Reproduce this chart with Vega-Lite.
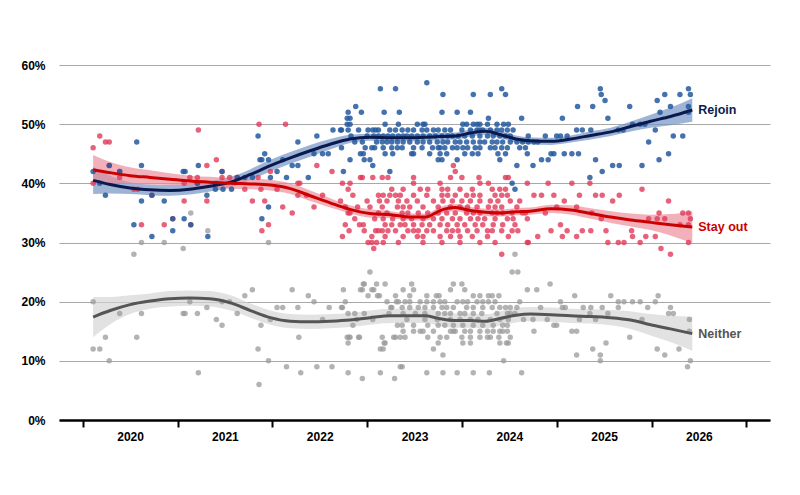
{
  "$schema": "https://vega.github.io/schema/vega-lite/v6.json",
  "width": 711,
  "height": 355,
  "autosize": "none",
  "padding": {"left": 59, "top": 65, "right": 30, "bottom": 75},
  "background": "white",
  "config": {"view": {"stroke": null}, "font": "Liberation Sans"},
  "datasets": {
    "trend": [
      {"s":"R","d":2019.61,"est":40.5,"lo":38.2,"hi":42.8},
      {"s":"R","d":2019.79,"est":39.8,"lo":38.3,"hi":41.3},
      {"s":"R","d":2020.00,"est":39.2,"lo":38.2,"hi":40.2},
      {"s":"R","d":2020.21,"est":38.9,"lo":38.0,"hi":39.8},
      {"s":"R","d":2020.42,"est":38.8,"lo":37.9,"hi":39.7},
      {"s":"R","d":2020.63,"est":39.0,"lo":38.1,"hi":39.9},
      {"s":"R","d":2020.84,"est":39.5,"lo":38.6,"hi":40.4},
      {"s":"R","d":2021.06,"est":40.2,"lo":39.3,"hi":41.1},
      {"s":"R","d":2021.27,"est":41.5,"lo":40.6,"hi":42.4},
      {"s":"R","d":2021.48,"est":43.0,"lo":42.0,"hi":44.0},
      {"s":"R","d":2021.69,"est":44.3,"lo":43.3,"hi":45.3},
      {"s":"R","d":2021.90,"est":45.5,"lo":44.5,"hi":46.5},
      {"s":"R","d":2022.11,"est":46.6,"lo":45.7,"hi":47.5},
      {"s":"R","d":2022.32,"est":47.5,"lo":46.8,"hi":48.2},
      {"s":"R","d":2022.53,"est":47.8,"lo":47.2,"hi":48.4},
      {"s":"R","d":2022.75,"est":47.7,"lo":47.1,"hi":48.3},
      {"s":"R","d":2022.96,"est":47.7,"lo":47.1,"hi":48.3},
      {"s":"R","d":2023.12,"est":47.8,"lo":47.2,"hi":48.4},
      {"s":"R","d":2023.27,"est":47.9,"lo":47.3,"hi":48.5},
      {"s":"R","d":2023.43,"est":48.0,"lo":47.4,"hi":48.6},
      {"s":"R","d":2023.59,"est":48.5,"lo":47.9,"hi":49.1},
      {"s":"R","d":2023.75,"est":48.8,"lo":48.2,"hi":49.4},
      {"s":"R","d":2023.91,"est":48.2,"lo":47.6,"hi":48.8},
      {"s":"R","d":2024.07,"est":47.5,"lo":46.9,"hi":48.1},
      {"s":"R","d":2024.22,"est":47.2,"lo":46.6,"hi":47.8},
      {"s":"R","d":2024.44,"est":47.1,"lo":46.5,"hi":47.7},
      {"s":"R","d":2024.65,"est":47.5,"lo":46.9,"hi":48.1},
      {"s":"R","d":2024.86,"est":48.1,"lo":47.4,"hi":48.8},
      {"s":"R","d":2025.07,"est":48.7,"lo":48.0,"hi":49.4},
      {"s":"R","d":2025.28,"est":49.6,"lo":48.75,"hi":50.45},
      {"s":"R","d":2025.49,"est":50.5,"lo":49.4,"hi":51.6},
      {"s":"R","d":2025.70,"est":51.3,"lo":49.8,"hi":52.8},
      {"s":"R","d":2025.93,"est":52.4,"lo":50.4,"hi":54.4},
      {"s":"S","d":2019.61,"est":42.3,"lo":39.8,"hi":44.8},
      {"s":"S","d":2019.79,"est":41.8,"lo":40.0,"hi":43.6},
      {"s":"S","d":2020.00,"est":41.3,"lo":39.9,"hi":42.7},
      {"s":"S","d":2020.21,"est":41.0,"lo":39.8,"hi":42.2},
      {"s":"S","d":2020.42,"est":40.7,"lo":39.7,"hi":41.7},
      {"s":"S","d":2020.63,"est":40.4,"lo":39.5,"hi":41.3},
      {"s":"S","d":2020.84,"est":40.2,"lo":39.3,"hi":41.1},
      {"s":"S","d":2021.06,"est":40.0,"lo":39.1,"hi":40.9},
      {"s":"S","d":2021.27,"est":39.9,"lo":39.0,"hi":40.8},
      {"s":"S","d":2021.48,"est":39.7,"lo":38.8,"hi":40.6},
      {"s":"S","d":2021.69,"est":39.1,"lo":38.2,"hi":40.0},
      {"s":"S","d":2021.90,"est":37.9,"lo":37.0,"hi":38.8},
      {"s":"S","d":2022.11,"est":36.7,"lo":35.9,"hi":37.5},
      {"s":"S","d":2022.32,"est":35.6,"lo":34.9,"hi":36.3},
      {"s":"S","d":2022.53,"est":34.9,"lo":34.2,"hi":35.6},
      {"s":"S","d":2022.75,"est":34.7,"lo":34.1,"hi":35.3},
      {"s":"S","d":2022.96,"est":34.3,"lo":33.7,"hi":34.9},
      {"s":"S","d":2023.12,"est":34.3,"lo":33.7,"hi":34.9},
      {"s":"S","d":2023.27,"est":35.4,"lo":34.8,"hi":36.0},
      {"s":"S","d":2023.43,"est":35.9,"lo":35.3,"hi":36.5},
      {"s":"S","d":2023.59,"est":35.4,"lo":34.8,"hi":36.0},
      {"s":"S","d":2023.75,"est":35.1,"lo":34.5,"hi":35.7},
      {"s":"S","d":2023.91,"est":35.0,"lo":34.4,"hi":35.6},
      {"s":"S","d":2024.07,"est":35.2,"lo":34.6,"hi":35.8},
      {"s":"S","d":2024.22,"est":35.3,"lo":34.7,"hi":35.9},
      {"s":"S","d":2024.44,"est":35.7,"lo":35.0,"hi":36.4},
      {"s":"S","d":2024.65,"est":35.5,"lo":34.7,"hi":36.3},
      {"s":"S","d":2024.86,"est":34.9,"lo":34.0,"hi":35.8},
      {"s":"S","d":2025.07,"est":34.3,"lo":33.3,"hi":35.3},
      {"s":"S","d":2025.28,"est":33.8,"lo":32.7,"hi":34.9},
      {"s":"S","d":2025.49,"est":33.4,"lo":32.1,"hi":34.7},
      {"s":"S","d":2025.70,"est":33.0,"lo":31.2,"hi":34.8},
      {"s":"S","d":2025.93,"est":32.6,"lo":29.9,"hi":35.3},
      {"s":"N","d":2019.61,"est":17.4,"lo":14.0,"hi":20.8},
      {"s":"N","d":2019.79,"est":18.5,"lo":16.2,"hi":20.8},
      {"s":"N","d":2020.00,"est":19.5,"lo":17.9,"hi":21.1},
      {"s":"N","d":2020.21,"est":20.1,"lo":18.8,"hi":21.4},
      {"s":"N","d":2020.42,"est":20.5,"lo":19.2,"hi":21.8},
      {"s":"N","d":2020.63,"est":20.6,"lo":19.3,"hi":21.9},
      {"s":"N","d":2020.84,"est":20.5,"lo":19.2,"hi":21.8},
      {"s":"N","d":2021.06,"est":19.8,"lo":18.5,"hi":21.1},
      {"s":"N","d":2021.27,"est":18.5,"lo":17.3,"hi":19.7},
      {"s":"N","d":2021.48,"est":17.3,"lo":16.1,"hi":18.5},
      {"s":"N","d":2021.69,"est":16.7,"lo":15.5,"hi":17.9},
      {"s":"N","d":2021.90,"est":16.6,"lo":15.4,"hi":17.8},
      {"s":"N","d":2022.11,"est":16.7,"lo":15.5,"hi":17.9},
      {"s":"N","d":2022.32,"est":16.9,"lo":15.7,"hi":18.1},
      {"s":"N","d":2022.53,"est":17.3,"lo":16.1,"hi":18.5},
      {"s":"N","d":2022.75,"est":17.6,"lo":16.4,"hi":18.8},
      {"s":"N","d":2022.96,"est":17.6,"lo":16.4,"hi":18.8},
      {"s":"N","d":2023.12,"est":17.6,"lo":16.4,"hi":18.8},
      {"s":"N","d":2023.27,"est":17.1,"lo":15.9,"hi":18.3},
      {"s":"N","d":2023.43,"est":16.8,"lo":15.6,"hi":18.0},
      {"s":"N","d":2023.59,"est":16.8,"lo":15.6,"hi":18.0},
      {"s":"N","d":2023.75,"est":16.7,"lo":15.5,"hi":17.9},
      {"s":"N","d":2023.91,"est":17.2,"lo":16.0,"hi":18.4},
      {"s":"N","d":2024.07,"est":17.7,"lo":16.5,"hi":18.9},
      {"s":"N","d":2024.22,"est":17.9,"lo":16.7,"hi":19.1},
      {"s":"N","d":2024.44,"est":17.8,"lo":16.6,"hi":19.0},
      {"s":"N","d":2024.65,"est":17.6,"lo":16.4,"hi":18.8},
      {"s":"N","d":2024.86,"est":17.5,"lo":16.3,"hi":18.7},
      {"s":"N","d":2025.07,"est":17.3,"lo":16.0,"hi":18.6},
      {"s":"N","d":2025.28,"est":16.9,"lo":15.4,"hi":18.4},
      {"s":"N","d":2025.49,"est":16.1,"lo":14.3,"hi":17.9},
      {"s":"N","d":2025.70,"est":15.4,"lo":13.2,"hi":17.6},
      {"s":"N","d":2025.93,"est":14.6,"lo":11.7,"hi":17.5}
    ]
  },
  "layer": [
    {
      "data": {"name": "trend"},
      "mark": {"type": "area", "interpolate": "monotone"},
      "encoding": {
        "x": {
          "field": "d", "type": "quantitative",
          "scale": {"domain": [2019.25, 2026.75], "nice": false, "zero": false},
          "axis": {
            "title": null, "grid": false,
            "values": [2019.5, 2020.5, 2021.5, 2022.5, 2023.5, 2024.5, 2025.5, 2026.5],
            "labelExpr": "datum.value < 2026 ? toString(datum.value + 0.5) : ''",
            "labelOffset": 47.4, "labelOverlap": false, "labelFlush": false, "labelBound": false,
            "domainColor": "black", "domainWidth": 2.5,
            "tickColor": "black", "tickWidth": 2, "tickSize": 7,
            "labelFontWeight": "bold", "labelFontSize": 12, "labelColor": "black", "labelPadding": 4
          }
        },
        "y": {
          "field": "lo", "type": "quantitative",
          "scale": {"domain": [0, 60], "nice": false},
          "axis": {
            "title": null, "values": [0, 10, 20, 30, 40, 50, 60],
            "labelExpr": "datum.value + '%'",
            "domain": false, "ticks": false, "labelPadding": 14,
            "labelFontWeight": "bold", "labelFontSize": 12, "labelColor": "black",
            "gridColor": "#a8a8a8", "gridWidth": 1
          }
        },
        "y2": {"field": "hi"},
        "color": {
          "field": "s", "type": "nominal", "legend": null,
          "scale": {"domain": ["R", "S", "N"], "range": ["#7394c6", "#ec8c98", "#d2d2d2"]}
        },
        "opacity": {
          "field": "s", "type": "nominal", "legend": null,
          "scale": {"domain": ["R", "S", "N"], "range": [0.7, 0.65, 0.75]}
        }
      }
    },
    {
      "data": {
        "values": "d,s,v\n2019.61,N,20\n2019.61,N,12\n2019.68,N,12\n2019.74,N,14\n2019.78,N,10\n2019.89,N,18\n2020.07,N,14\n2020.12,N,18\n2020.56,N,18\n2020.58,N,18\n2020.63,N,20\n2020.71,N,18\n2020.72,N,8\n2020.81,N,19\n2020.91,N,17\n2020.97,N,16\n2020.97,N,20\n2021.05,N,20\n2021.13,N,18\n2020.04,N,28\n2020.12,N,30\n2020.36,N,30\n2020.56,N,29\n2020.64,N,35\n2020.82,N,32\n2021.46,N,30\n2021.21,N,21\n2021.29,N,22\n2021.35,N,12\n2021.36,N,6\n2021.38,N,16\n2021.46,N,10\n2021.48,N,17\n2021.55,N,19\n2021.61,N,19\n2021.65,N,9\n2021.71,N,22\n2021.77,N,19\n2021.78,N,14\n2021.80,N,8\n2021.88,N,21\n2021.94,N,20\n2021.97,N,9\n2022.03,N,17\n2022.10,N,19\n2022.13,N,9\n2022.23,N,19\n2022.24,N,19\n2022.25,N,22\n2022.27,N,20\n2022.30,N,18\n2022.29,N,14\n2022.31,N,14\n2022.32,N,14\n2022.30,N,13\n2022.30,N,8\n2022.35,N,16\n2022.37,N,18\n2022.39,N,17\n2022.41,N,14\n2022.42,N,14\n2022.43,N,22\n2022.45,N,22\n2022.46,N,23\n2022.47,N,23\n2022.45,N,7\n2022.47,N,18\n2022.53,N,25\n2022.51,N,21\n2022.55,N,22\n2022.57,N,22\n2022.56,N,17\n2022.60,N,23\n2022.61,N,21\n2022.63,N,21\n2022.64,N,12\n2022.67,N,12\n2022.64,N,8\n2022.66,N,14\n2022.68,N,13\n2022.69,N,13\n2022.69,N,23\n2022.71,N,20\n2022.73,N,18\n2022.75,N,19\n2022.76,N,19\n2022.79,N,7\n2022.78,N,14\n2022.80,N,14\n2022.80,N,21\n2022.81,N,20\n2022.83,N,20\n2022.82,N,16\n2022.85,N,9\n2024.03,N,25\n2024.09,N,25\n2022.97,N,23\n2023.41,N,23\n2023.50,N,23\n2024.43,N,23\n2022.88,N,22\n2022.99,N,22\n2023.38,N,22\n2023.53,N,22\n2024.19,N,22\n2024.29,N,22\n2022.95,N,21\n2023.13,N,21\n2023.23,N,21\n2023.26,N,21\n2023.62,N,21\n2023.69,N,21\n2023.78,N,21\n2023.82,N,21\n2023.89,N,21\n2024.69,N,21\n2025.07,N,21\n2025.57,N,21\n2022.90,N,20\n2022.95,N,20\n2023.06,N,20\n2023.13,N,20\n2023.20,N,20\n2023.27,N,20\n2023.32,N,20\n2023.45,N,20\n2023.51,N,20\n2023.56,N,20\n2023.66,N,20\n2023.72,N,20\n2023.78,N,20\n2023.85,N,20\n2024.11,N,20\n2024.54,N,20\n2025.15,N,20\n2025.21,N,20\n2025.30,N,20\n2025.38,N,20\n2025.54,N,20\n2022.87,N,19\n2022.95,N,19\n2023.04,N,19\n2023.11,N,19\n2023.20,N,19\n2023.29,N,19\n2023.34,N,19\n2023.41,N,19\n2023.55,N,19\n2023.62,N,19\n2023.72,N,19\n2023.82,N,19\n2023.90,N,19\n2023.96,N,19\n2024.01,N,19\n2024.08,N,19\n2024.33,N,19\n2024.56,N,19\n2024.59,N,19\n2024.78,N,19\n2024.86,N,19\n2024.98,N,19\n2025.15,N,19\n2025.46,N,19\n2025.70,N,19\n2022.88,N,18\n2023.01,N,18\n2023.11,N,18\n2023.25,N,18\n2023.32,N,18\n2023.38,N,18\n2023.48,N,18\n2023.53,N,18\n2023.62,N,18\n2023.71,N,18\n2023.87,N,18\n2023.98,N,18\n2024.01,N,18\n2024.06,N,18\n2024.85,N,18\n2025.04,N,18\n2025.68,N,18\n2025.73,N,18\n2022.92,N,17\n2023.11,N,17\n2023.24,N,17\n2023.38,N,17\n2023.48,N,17\n2023.59,N,17\n2023.67,N,17\n2023.80,N,17\n2023.90,N,17\n2023.99,N,17\n2024.15,N,17\n2024.25,N,17\n2024.40,N,17\n2024.74,N,17\n2024.91,N,17\n2025.40,N,17\n2025.90,N,17\n2022.87,N,16\n2022.99,N,16\n2023.14,N,16\n2023.25,N,16\n2023.32,N,16\n2023.41,N,16\n2023.51,N,16\n2023.62,N,16\n2023.72,N,16\n2023.83,N,16\n2023.93,N,16\n2023.98,N,16\n2024.47,N,16\n2024.50,N,16\n2022.88,N,15\n2022.99,N,15\n2023.06,N,15\n2023.09,N,15\n2023.20,N,15\n2023.38,N,15\n2023.41,N,15\n2023.43,N,15\n2023.53,N,15\n2023.59,N,15\n2023.69,N,15\n2023.77,N,15\n2023.83,N,15\n2023.90,N,15\n2023.93,N,15\n2023.98,N,15\n2024.26,N,15\n2024.66,N,15\n2024.71,N,15\n2025.90,N,15\n2022.85,N,14\n2022.90,N,14\n2023.14,N,14\n2023.27,N,14\n2023.34,N,14\n2023.50,N,14\n2023.59,N,14\n2023.69,N,14\n2023.77,N,14\n2023.80,N,14\n2023.89,N,14\n2024.01,N,14\n2025.27,N,14\n2023.25,N,13\n2023.51,N,13\n2023.59,N,13\n2023.90,N,13\n2023.97,N,13\n2023.99,N,13\n2025.02,N,13\n2023.20,N,12\n2024.88,N,12\n2025.56,N,12\n2025.79,N,12\n2023.30,N,11\n2024.71,N,11\n2024.96,N,11\n2025.64,N,11\n2023.94,N,10\n2024.96,N,10\n2025.91,N,10\n2022.87,N,9\n2025.88,N,9\n2023.13,N,8\n2023.30,N,8\n2023.45,N,8\n2023.62,N,8\n2023.79,N,8\n2024.13,N,8\n2024.06,N,28\n2019.61,S,46\n2019.68,S,48\n2019.74,S,47\n2019.78,S,47\n2019.61,S,40\n2019.78,S,43\n2019.89,S,42\n2019.89,S,41\n2020.04,S,39\n2020.08,S,39\n2020.12,S,33\n2020.23,S,38\n2020.36,S,33\n2020.45,S,34\n2020.57,S,40\n2020.57,S,37\n2020.64,S,33\n2020.63,S,41\n2020.72,S,49\n2020.71,S,41\n2020.71,S,40\n2020.81,S,37\n2020.81,S,43\n2020.91,S,44\n2020.97,S,42\n2020.97,S,41\n2021.05,S,41\n2021.13,S,41\n2021.21,S,39\n2021.29,S,37\n2021.35,S,41\n2021.36,S,50\n2021.38,S,39\n2021.39,S,32\n2021.42,S,37\n2021.46,S,33\n2021.48,S,42\n2021.55,S,39\n2021.61,S,36\n2021.64,S,50\n2021.71,S,35\n2021.77,S,38\n2021.77,S,40\n2021.79,S,40\n2021.86,S,38\n2021.94,S,36\n2021.97,S,43\n2022.03,S,38\n2022.13,S,42\n2022.22,S,37\n2022.24,S,31\n2022.27,S,33\n2022.27,S,36\n2022.30,S,35\n2022.32,S,35\n2022.32,S,40\n2022.30,S,39\n2022.31,S,32\n2022.37,S,34\n2022.42,S,33\n2022.46,S,33\n2022.43,S,41\n2022.47,S,32\n2022.51,S,30\n2022.55,S,31\n2022.55,S,30\n2022.57,S,29\n2022.56,S,41\n2022.59,S,32\n2022.62,S,32\n2022.62,S,35\n2022.62,S,38\n2022.63,S,37\n2022.60,S,30\n2022.24,S,40\n2022.45,S,41\n2022.40,S,36\n2022.35,S,38\n2022.50,S,37\n2022.58,S,34\n2022.53,S,36\n2023.41,S,43\n2023.43,S,42\n2022.66,S,41\n2022.72,S,41\n2022.99,S,41\n2023.38,S,41\n2023.50,S,41\n2023.68,S,41\n2023.96,S,41\n2023.99,S,41\n2022.99,S,40\n2023.27,S,40\n2023.69,S,40\n2023.78,S,40\n2024.19,S,40\n2022.76,S,39\n2022.88,S,39\n2023.06,S,39\n2023.14,S,39\n2023.29,S,39\n2023.35,S,39\n2023.48,S,39\n2023.61,S,39\n2023.82,S,39\n2023.90,S,39\n2023.96,S,39\n2022.67,S,38\n2022.74,S,38\n2022.80,S,38\n2022.85,S,38\n2022.99,S,38\n2023.13,S,38\n2023.29,S,38\n2023.35,S,38\n2023.43,S,38\n2023.55,S,38\n2023.62,S,38\n2023.69,S,38\n2023.85,S,38\n2023.92,S,38\n2023.98,S,38\n2022.71,S,37\n2022.83,S,37\n2022.92,S,37\n2023.03,S,37\n2023.20,S,37\n2023.30,S,37\n2023.40,S,37\n2023.50,S,37\n2023.59,S,37\n2023.69,S,37\n2023.80,S,37\n2023.88,S,37\n2024.01,S,37\n2024.11,S,37\n2022.66,S,36\n2022.82,S,36\n2022.88,S,36\n2022.95,S,36\n2023.09,S,36\n2023.25,S,36\n2023.38,S,36\n2023.48,S,36\n2023.56,S,36\n2023.66,S,36\n2023.78,S,36\n2023.85,S,36\n2023.92,S,36\n2024.08,S,36\n2022.71,S,35\n2022.87,S,35\n2022.93,S,35\n2023.04,S,35\n2023.14,S,35\n2023.25,S,35\n2023.34,S,35\n2023.43,S,35\n2023.55,S,35\n2023.62,S,35\n2023.69,S,35\n2023.82,S,35\n2023.87,S,35\n2023.93,S,35\n2024.03,S,35\n2024.14,S,35\n2022.67,S,34\n2022.77,S,34\n2022.88,S,34\n2022.97,S,34\n2023.09,S,34\n2023.20,S,34\n2023.29,S,34\n2023.40,S,34\n2023.48,S,34\n2023.59,S,34\n2023.67,S,34\n2023.74,S,34\n2023.85,S,34\n2023.98,S,34\n2024.04,S,34\n2024.19,S,34\n2022.69,S,33\n2022.76,S,33\n2022.85,S,33\n2022.90,S,33\n2022.99,S,33\n2023.08,S,33\n2023.16,S,33\n2023.27,S,33\n2023.35,S,33\n2023.45,S,33\n2023.53,S,33\n2023.64,S,33\n2023.72,S,33\n2023.83,S,33\n2023.93,S,33\n2024.06,S,33\n2022.66,S,32\n2022.72,S,32\n2022.80,S,32\n2022.93,S,32\n2022.99,S,32\n2023.04,S,32\n2023.13,S,32\n2023.20,S,32\n2023.34,S,32\n2023.40,S,32\n2023.46,S,32\n2023.56,S,32\n2023.66,S,32\n2023.77,S,32\n2023.82,S,32\n2023.92,S,32\n2024.03,S,32\n2024.09,S,32\n2022.69,S,31\n2022.88,S,31\n2023.03,S,31\n2023.09,S,31\n2023.27,S,31\n2023.38,S,31\n2023.48,S,31\n2023.61,S,31\n2023.77,S,31\n2023.99,S,31\n2022.67,S,30\n2022.83,S,30\n2023.09,S,30\n2023.29,S,30\n2023.48,S,30\n2023.69,S,30\n2023.85,S,30\n2024.19,S,30\n2023.92,S,28\n2024.41,S,40\n2024.66,S,40\n2024.85,S,40\n2024.26,S,38\n2024.34,S,38\n2024.47,S,38\n2024.74,S,38\n2024.91,S,38\n2024.98,S,38\n2025.16,S,38\n2025.40,S,39\n2024.58,S,37\n2025.09,S,37\n2025.68,S,37\n2024.50,S,36\n2024.71,S,36\n2024.17,S,35\n2024.38,S,35\n2024.87,S,35\n2025.58,S,35\n2025.83,S,35\n2025.89,S,35\n2024.97,S,34\n2025.47,S,34\n2025.56,S,34\n2025.64,S,34\n2025.80,S,33\n2025.89,S,33\n2025.91,S,34\n2024.54,S,33\n2024.44,S,32\n2024.61,S,32\n2024.77,S,32\n2024.86,S,32\n2025.02,S,32\n2025.29,S,32\n2024.30,S,31\n2024.56,S,31\n2024.71,S,31\n2025.30,S,31\n2025.44,S,31\n2025.54,S,31\n2025.04,S,30\n2025.15,S,30\n2025.21,S,30\n2025.38,S,30\n2025.89,S,30\n2025.60,S,29\n2025.70,S,28\n2024.20,S,30\n2019.61,R,42\n2019.68,R,40\n2019.74,R,38\n2019.78,R,43\n2019.89,R,42\n2020.04,R,33\n2020.07,R,47\n2020.12,R,43\n2020.12,R,37\n2020.23,R,38\n2020.23,R,31\n2020.36,R,37\n2020.45,R,34\n2020.45,R,32\n2020.56,R,42\n2020.58,R,42\n2020.57,R,34\n2020.64,R,33\n2020.71,R,40\n2020.72,R,43\n2020.81,R,38\n2020.82,R,31\n2020.90,R,39\n2020.97,R,42\n2020.98,R,39\n2021.07,R,39\n2021.13,R,41\n2021.21,R,41\n2021.29,R,41\n2021.35,R,48\n2021.37,R,44\n2021.39,R,44\n2021.42,R,45\n2021.46,R,44\n2021.39,R,34\n2021.46,R,36\n2021.48,R,41\n2021.55,R,42\n2021.61,R,44\n2021.65,R,41\n2021.71,R,43\n2021.77,R,47\n2021.77,R,43\n2021.88,R,41\n2021.94,R,45\n2021.97,R,48\n2022.03,R,45\n2022.09,R,45\n2022.14,R,49\n2022.23,R,49\n2022.23,R,46\n2022.25,R,42\n2022.29,R,51\n2022.32,R,51\n2022.30,R,52\n2022.29,R,50\n2022.32,R,50\n2022.22,R,49\n2022.30,R,49\n2022.32,R,44\n2022.38,R,53\n2022.41,R,49\n2022.44,R,52\n2022.43,R,45\n2022.46,R,45\n2022.47,R,44\n2022.51,R,49\n2022.56,R,49\n2022.59,R,49\n2022.62,R,49\n2022.57,R,48\n2022.62,R,48\n2022.53,R,44\n2022.56,R,43\n2022.37,R,47\n2022.45,R,47\n2022.50,R,48\n2022.55,R,46\n2022.60,R,47\n2022.33,R,48\n2022.48,R,46\n2022.58,R,46\n2023.13,R,57\n2022.64,R,56\n2022.80,R,56\n2023.92,R,56\n2023.30,R,55\n2023.62,R,55\n2023.80,R,55\n2023.96,R,55\n2022.68,R,52\n2022.84,R,52\n2023.29,R,52\n2023.45,R,52\n2023.59,R,52\n2024.13,R,51\n2023.78,R,51\n2022.69,R,50\n2022.83,R,50\n2023.03,R,50\n2023.09,R,50\n2023.11,R,50\n2023.51,R,50\n2023.55,R,50\n2023.62,R,50\n2023.66,R,50\n2023.69,R,50\n2023.77,R,50\n2023.87,R,50\n2023.94,R,50\n2023.99,R,50\n2022.74,R,49\n2022.80,R,49\n2022.87,R,49\n2022.93,R,49\n2022.99,R,49\n2023.08,R,49\n2023.13,R,49\n2023.20,R,49\n2023.25,R,49\n2023.32,R,49\n2023.38,R,49\n2023.50,R,49\n2023.59,R,49\n2023.66,R,49\n2023.69,R,49\n2023.72,R,49\n2023.80,R,49\n2023.87,R,49\n2023.92,R,49\n2023.98,R,49\n2024.04,R,49\n2022.67,R,48\n2022.72,R,48\n2022.77,R,48\n2022.83,R,48\n2022.88,R,48\n2022.92,R,48\n2022.97,R,48\n2023.03,R,48\n2023.09,R,48\n2023.16,R,48\n2023.22,R,48\n2023.29,R,48\n2023.35,R,48\n2023.40,R,48\n2023.46,R,48\n2023.53,R,48\n2023.61,R,48\n2023.69,R,48\n2023.77,R,48\n2023.83,R,48\n2023.90,R,48\n2023.96,R,48\n2024.01,R,48\n2022.66,R,47\n2022.71,R,47\n2022.76,R,47\n2022.82,R,47\n2022.88,R,47\n2022.95,R,47\n2023.03,R,47\n2023.09,R,47\n2023.16,R,47\n2023.24,R,47\n2023.30,R,47\n2023.35,R,47\n2023.43,R,47\n2023.48,R,47\n2023.55,R,47\n2023.62,R,47\n2023.69,R,47\n2023.74,R,47\n2023.82,R,47\n2023.87,R,47\n2023.93,R,47\n2024.01,R,47\n2024.08,R,47\n2024.14,R,47\n2024.20,R,47\n2022.67,R,46\n2022.76,R,46\n2022.82,R,46\n2022.87,R,46\n2022.99,R,46\n2023.08,R,46\n2023.19,R,46\n2023.25,R,46\n2023.27,R,46\n2023.32,R,46\n2023.40,R,46\n2023.45,R,46\n2023.51,R,46\n2023.56,R,46\n2023.64,R,46\n2023.69,R,46\n2023.80,R,46\n2023.85,R,46\n2023.92,R,46\n2023.98,R,46\n2024.11,R,46\n2024.17,R,46\n2022.69,R,45\n2022.77,R,45\n2022.97,R,45\n2022.99,R,45\n2023.16,R,45\n2023.27,R,45\n2023.34,R,45\n2023.53,R,45\n2023.61,R,45\n2023.67,R,45\n2023.88,R,45\n2023.96,R,45\n2024.19,R,45\n2023.25,R,44\n2023.29,R,44\n2023.45,R,44\n2023.90,R,44\n2024.08,R,43\n2022.74,R,42\n2024.03,R,40\n2024.06,R,39\n2024.20,R,48\n2024.26,R,47\n2024.30,R,47\n2024.38,R,48\n2024.50,R,48\n2024.54,R,48\n2024.61,R,48\n2024.56,R,51\n2024.71,R,49\n2024.77,R,49\n2024.86,R,49\n2024.72,R,53\n2024.88,R,53\n2024.96,R,56\n2024.97,R,55\n2025.01,R,54\n2025.04,R,51\n2025.27,R,53\n2025.15,R,49\n2025.20,R,49\n2025.30,R,50\n2025.38,R,50\n2025.43,R,50\n2025.54,R,49\n2025.47,R,47\n2025.56,R,54\n2025.59,R,52\n2025.64,R,55\n2025.70,R,53\n2025.80,R,55\n2025.89,R,56\n2025.91,R,55\n2025.89,R,53\n2025.89,R,52\n2025.73,R,48\n2025.83,R,48\n2025.68,R,45\n2025.58,R,44\n2025.40,R,43\n2024.25,R,43\n2024.34,R,44\n2024.41,R,44\n2024.44,R,45\n2024.47,R,45\n2024.58,R,45\n2024.66,R,45\n2024.73,R,45\n2024.91,R,44\n2024.98,R,42\n2024.85,R,41\n2025.09,R,43\n2025.16,R,43",
        "format": {"type": "csv", "parse": {"d": "number", "v": "number"}}
      },
      "mark": {"type": "circle", "size": 30},
      "encoding": {
        "x": {"field": "d", "type": "quantitative"},
        "y": {"field": "v", "type": "quantitative"},
        "color": {
          "field": "s", "type": "nominal", "legend": null,
          "scale": {"domain": ["R", "S", "N"], "range": ["#24599d", "#e03a57", "#9a9a9a"]}
        },
        "opacity": {
          "field": "s", "type": "nominal", "legend": null,
          "scale": {"domain": ["R", "S", "N"], "range": [0.85, 0.75, 0.6]}
        }
      }
    },
    {
      "data": {"name": "trend"},
      "mark": {"type": "line", "interpolate": "monotone"},
      "encoding": {
        "x": {"field": "d", "type": "quantitative"},
        "y": {"field": "est", "type": "quantitative"},
        "color": {
          "field": "s", "type": "nominal", "legend": null,
          "scale": {"domain": ["R", "S", "N"], "range": ["#0b1a4e", "#cc0000", "#555555"]}
        },
        "strokeWidth": {
          "field": "s", "type": "nominal", "legend": null,
          "scale": {"domain": ["R", "S", "N"], "range": [3, 3, 2]}
        }
      }
    },
    {
      "data": {
        "values": [
          {"s": "R", "t": "Rejoin", "d": 2025.93, "v": 52.4},
          {"s": "S", "t": "Stay out", "d": 2025.93, "v": 32.6},
          {"s": "N", "t": "Neither", "d": 2025.93, "v": 14.6}
        ]
      },
      "mark": {"type": "text", "align": "left", "baseline": "middle", "dx": 6, "fontWeight": "bold", "fontSize": 12.5},
      "encoding": {
        "x": {"field": "d", "type": "quantitative"},
        "y": {"field": "v", "type": "quantitative"},
        "text": {"field": "t"},
        "color": {
          "field": "s", "type": "nominal", "legend": null,
          "scale": {"domain": ["R", "S", "N"], "range": ["#0b1a4e", "#cc0000", "#555555"]}
        }
      }
    }
  ],
  "resolve": {"scale": {"color": "independent", "opacity": "independent"}}
}
